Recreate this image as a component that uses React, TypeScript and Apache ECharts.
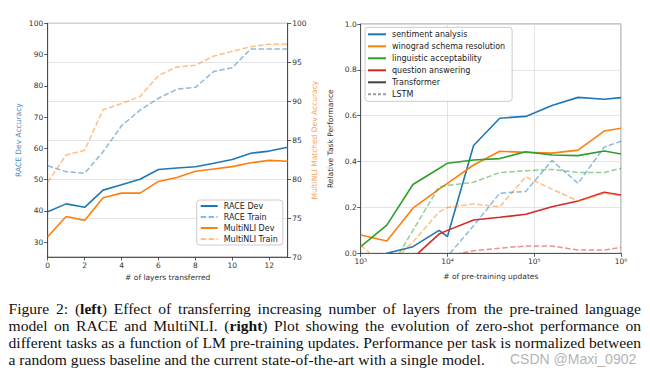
import React, { useEffect, useRef } from 'react';
import * as echarts from 'echarts';

// ---------- left chart data ----------
const layers = [0, 1, 2, 3, 4, 5, 6, 7, 8, 9, 10, 11, 12, 13];
const raceDev = [39.7, 42.2, 41.1, 46.6, 48.3, 50.1, 53.2, 53.7, 54.1, 55.2, 56.4, 58.4, 59.1, 60.3];
const raceTrain = [54.4, 52.5, 52.0, 58.9, 67.2, 72.2, 76.0, 78.9, 79.5, 84.6, 85.8, 91.8, 91.8, 91.8];
const mnliDev = [72.6, 75.2, 74.7, 77.6, 78.2, 78.2, 79.7, 80.2, 81.0, 81.3, 81.6, 82.1, 82.4, 82.3];
const mnliTrain = [79.6, 83.1, 83.7, 88.9, 89.7, 90.6, 93.3, 94.4, 94.6, 95.8, 96.4, 97.0, 97.3, 97.3];
const layerTicks = [0, 2, 4, 6, 8, 10, 12];
const raceTicks = [30, 40, 50, 60, 70, 80, 90, 100];

// ---------- right chart data ----------
const updates = [1000, 2000, 4000, 8000, 10000, 20000, 40000, 80000, 160000, 320000, 640000, 1000000];
const sentT = [-0.03, 0.0, 0.029, 0.1, 0.073, 0.47, 0.589, 0.597, 0.645, 0.68, 0.672, 0.679];
const winoT = [0.08, 0.054, 0.197, 0.28, 0.305, 0.385, 0.445, 0.44, 0.437, 0.45, 0.533, 0.545];
const lingT = [0.029, 0.123, 0.3, 0.37, 0.393, 0.407, 0.413, 0.443, 0.429, 0.426, 0.446, 0.433];
const qaT = [null, null, -0.02, 0.084, 0.1, 0.145, 0.157, 0.17, 0.203, 0.228, 0.266, 0.254];
const sentL = [null, null, null, -0.05, -0.013, 0.12, 0.262, 0.27, 0.405, 0.305, 0.463, 0.489];
const winoL = [0.036, -0.062, 0.05, 0.18, 0.2, 0.215, 0.203, 0.334, 0.28, 0.228, 0.262, 0.252];
const lingL = [null, -0.09, 0.1, 0.29, 0.296, 0.31, 0.352, 0.36, 0.366, 0.352, 0.352, 0.371];
const qaL = [null, null, null, null, -0.01, 0.011, 0.022, 0.032, 0.032, 0.014, 0.014, 0.026];
const taskNames = ['sentiment analysis', 'winograd schema resolution', 'linguistic acceptability', 'question answering'];

// ---------- caption ----------
const captionLines = [
  'Figure 2: ({b|left}) Effect of transferring increasing number of layers from the pre-trained language',
  'model on RACE and MultiNLI. ({b|right}) Plot showing the evolution of zero-shot performance on',
  'different tasks as a function of LM pre-training updates. Performance per task is normalized between',
  'a random guess baseline and the current state-of-the-art with a single model.',
];
const watermark = 'CSDN @Maxi_0902';

const C = { blue: '#1f77b4', orange: '#ff7f0e', green: '#2ca02c', red: '#d62728' };
const A = {
  blue: 'rgba(31,119,180,0.5)',
  orange: 'rgba(255,127,14,0.5)',
  green: 'rgba(44,160,44,0.5)',
  red: 'rgba(214,39,40,0.5)',
};
const DASH = [5.5, 2.4];
const FONT = 'DejaVu Sans';
const SERIF = 'Liberation Serif';
const CAP_SIZE = 15.6;
const CAP_LEFT = 8.5;
const CAP_RIGHT = 641;
const CAP_TOP = 308;
const CAP_LEAD = 17;

const SUP: Record<string, string> = { '0': '⁰', '1': '¹', '2': '²', '3': '³', '4': '⁴', '5': '⁵', '6': '⁶', '7': '⁷', '8': '⁸', '9': '⁹' };

function pairs(xs: number[], ys: (number | null)[]) {
  const out: number[][] = [];
  xs.forEach((x, i) => {
    const y = ys[i];
    if (y !== null && y !== undefined) out.push([x, y]);
  });
  return out;
}

function lineSeries(name: string, data: number[][], color: string, dashed: boolean, xi: number, yi: number) {
  return {
    type: 'line',
    name,
    xAxisIndex: xi,
    yAxisIndex: yi,
    data,
    symbol: 'none',
    clip: true,
    lineStyle: { color, width: dashed ? 1.5 : 1.6, type: dashed ? DASH : 'solid' },
    itemStyle: { color },
  };
}

function buildCaption(): any[] {
  const canvas = document.createElement('canvas');
  const ctx = canvas.getContext('2d') as CanvasRenderingContext2D;
  const measure = (s: string, bold: boolean) => {
    ctx.font = `${bold ? 'bold ' : ''}${CAP_SIZE}px ${SERIF}`;
    return ctx.measureText(s).width;
  };
  const parse = (w: string) => {
    const segs: { t: string; b: boolean }[] = [];
    const re = /\{b\|([^}]*)\}/g;
    let last = 0;
    let m: RegExpExecArray | null;
    while ((m = re.exec(w))) {
      if (m.index > last) segs.push({ t: w.slice(last, m.index), b: false });
      segs.push({ t: m[1], b: true });
      last = m.index + m[0].length;
    }
    if (last < w.length) segs.push({ t: w.slice(last), b: false });
    return segs;
  };
  const els: any[] = [];
  captionLines.forEach((line, li) => {
    const words = line.split(' ');
    const widths = words.map((w) => parse(w).reduce((a, s) => a + measure(s.t, s.b), 0));
    const total = widths.reduce((a, b) => a + b, 0);
    const justify = li < captionLines.length - 1;
    const gap = justify ? (CAP_RIGHT - CAP_LEFT - total) / (words.length - 1) : measure(' ', false);
    let x = CAP_LEFT;
    const y = CAP_TOP + li * CAP_LEAD;
    words.forEach((w, i) => {
      els.push({
        type: 'text',
        x,
        y,
        silent: true,
        style: {
          text: w,
          fontSize: CAP_SIZE,
          fontFamily: SERIF,
          fill: '#111',
          verticalAlign: 'middle',
          rich: { b: { fontWeight: 'bold', fontSize: CAP_SIZE, fontFamily: SERIF, fill: '#111' } },
        },
      });
      x += widths[i] + gap;
    });
  });
  els.push({
    type: 'text',
    x: 510,
    y: CAP_TOP + 3 * CAP_LEAD,
    silent: true,
    style: { text: watermark, fontSize: 14, fontFamily: 'Liberation Sans', fill: '#b4b4b4', verticalAlign: 'middle' },
  });
  return els;
}

const tickLabel = { fontSize: 7.5, color: '#333', fontFamily: FONT };
const nameStyle = { fontSize: 7.5, color: '#333', fontFamily: FONT };
const axisLine = { show: true, onZero: false, lineStyle: { color: '#333', width: 0.8 } };
const axisTick = { show: true, length: 3.5, lineStyle: { color: '#333', width: 0.8 } };
const legendBase = {
  orient: 'vertical',
  itemHeight: 8,
  borderColor: '#cccccc',
  borderWidth: 1,
  borderRadius: 3,
  backgroundColor: 'rgba(255,255,255,0.85)',
  selectedMode: false,
  itemStyle: { color: 'rgba(0,0,0,0)', borderWidth: 0, opacity: 0 },
  textStyle: { fontSize: 8, color: '#222', fontFamily: FONT, padding: [0, 0, 0, 1] },
};

export default function App() {
  const ref = useRef<HTMLDivElement>(null);
  useEffect(() => {
    if (!ref.current) return;
    const chart = echarts.init(ref.current, undefined, { renderer: 'svg' });
    const option: any = {
      animation: false,
      backgroundColor: '#ffffff',
      textStyle: { fontFamily: FONT },
      grid: [
        { left: 47.7, top: 23.3, width: 240, height: 233.7, show: true, borderColor: '#777', borderWidth: 0.8, backgroundColor: 'transparent' },
        { left: 360.7, top: 24, width: 260.3, height: 229.3, show: true, borderColor: '#777', borderWidth: 0.8, backgroundColor: 'transparent' },
      ],
      xAxis: [
        {
          type: 'value',
          gridIndex: 0,
          min: 0,
          max: 13,
          axisLine,
          axisTick: { ...axisTick, customValues: layerTicks },
          axisLabel: { ...tickLabel, margin: 4, customValues: layerTicks },
          splitLine: { show: false },
          name: '# of layers transferred',
          nameLocation: 'middle',
          nameGap: 16,
          nameTextStyle: nameStyle,
        },
        {
          type: 'log',
          logBase: 10,
          gridIndex: 1,
          min: 1000,
          max: 1000000,
          axisLine,
          axisTick,
          axisLabel: {
            ...tickLabel,
            margin: 4,
            formatter: (v: number) => '10' + SUP[String(Math.round(Math.log10(v)))],
          },
          splitLine: { show: true, lineStyle: { color: '#dddddd', width: 0.8 } },
          name: '# of pre-training updates',
          nameLocation: 'middle',
          nameGap: 19,
          nameTextStyle: nameStyle,
        },
      ],
      yAxis: [
        {
          type: 'value',
          gridIndex: 0,
          position: 'left',
          min: 25.2,
          max: 100,
          axisLine,
          axisTick: { ...axisTick, customValues: raceTicks },
          axisLabel: { ...tickLabel, margin: 4.5, customValues: raceTicks },
          splitLine: { show: false },
          name: 'RACE Dev Accuracy',
          nameLocation: 'middle',
          nameGap: 25,
          nameRotate: 90,
          nameTextStyle: { ...nameStyle, color: '#4a8cc4' },
        },
        {
          type: 'value',
          gridIndex: 0,
          position: 'right',
          min: 70,
          max: 100,
          interval: 5,
          axisLine,
          axisTick,
          axisLabel: { ...tickLabel, margin: 4.5 },
          splitLine: { show: true, lineStyle: { color: '#dddddd', width: 0.8 } },
          name: 'MultiNLI Matched Dev Accuracy',
          nameLocation: 'middle',
          nameGap: 23,
          nameRotate: 90,
          nameTextStyle: { ...nameStyle, color: '#f7a25c' },
        },
        {
          type: 'value',
          gridIndex: 1,
          position: 'left',
          min: 0,
          max: 1,
          interval: 0.2,
          axisLine,
          axisTick,
          axisLabel: { ...tickLabel, margin: 4, formatter: (v: number) => v.toFixed(1) },
          splitLine: { show: true, lineStyle: { color: '#dddddd', width: 0.8 } },
          name: 'Relative Task Performance',
          nameLocation: 'middle',
          nameGap: 26,
          nameRotate: 90,
          nameTextStyle: nameStyle,
        },
      ],
      legend: [
        {
          ...legendBase,
          data: ['RACE Dev', 'RACE Train', 'MultiNLI Dev', 'MultiNLI Train'],
          left: 196.7,
          top: 200,
          itemWidth: 17,
          itemGap: 3,
          padding: [2, 5, 2, 3],
        },
        {
          ...legendBase,
          data: [...taskNames, 'Transformer', 'LSTM'],
          left: 365,
          top: 27.3,
          itemWidth: 18,
          itemGap: 4,
          padding: [3, 7, 3, 2],
        },
      ],
      series: [
        lineSeries('RACE Dev', pairs(layers, raceDev), C.blue, false, 0, 0),
        lineSeries('RACE Train', pairs(layers, raceTrain), A.blue, true, 0, 0),
        lineSeries('MultiNLI Dev', pairs(layers, mnliDev), C.orange, false, 0, 1),
        lineSeries('MultiNLI Train', pairs(layers, mnliTrain), A.orange, true, 0, 1),

        lineSeries(taskNames[0], pairs(updates, sentT), C.blue, false, 1, 2),
        lineSeries(taskNames[1], pairs(updates, winoT), C.orange, false, 1, 2),
        lineSeries(taskNames[2], pairs(updates, lingT), C.green, false, 1, 2),
        lineSeries(taskNames[3], pairs(updates, qaT), C.red, false, 1, 2),
        lineSeries(taskNames[0] + ' (LSTM)', pairs(updates, sentL), A.blue, true, 1, 2),
        lineSeries(taskNames[1] + ' (LSTM)', pairs(updates, winoL), A.orange, true, 1, 2),
        lineSeries(taskNames[2] + ' (LSTM)', pairs(updates, lingL), A.green, true, 1, 2),
        lineSeries(taskNames[3] + ' (LSTM)', pairs(updates, qaL), A.red, true, 1, 2),
        { ...lineSeries('Transformer', [], '#444444', false, 1, 2), lineStyle: { color: '#444444', width: 1.2 } },
        { ...lineSeries('LSTM', [], '#9a9a9a', true, 1, 2), lineStyle: { color: '#9a9a9a', width: 1.1, type: [3, 2] } },
      ],
      graphic: buildCaption(),
    };
    chart.setOption(option);
    return () => chart.dispose();
  }, []);
  return (
    <div
      ref={ref}
      style={{ position: 'fixed', left: 0, top: 0, width: 650, height: 370, background: '#fff' }}
    />
  );
}
